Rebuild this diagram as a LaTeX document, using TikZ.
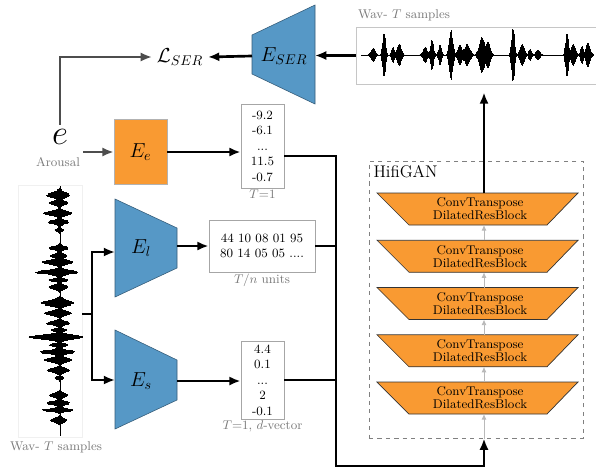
\documentclass[tikz,border=0pt]{standalone}
\usepackage{xcolor}
\usepackage{tikz}
\usetikzlibrary{arrows.meta}

\definecolor{serblue}{HTML}{5698C6}
\definecolor{encorange}{HTML}{F99A32}
\definecolor{lblgray}{HTML}{7A7A7A}
\definecolor{arrgray}{HTML}{4D4D4D}

\tikzset{
  conn/.style={line width=1.9pt, -{Latex[length=8pt,width=6.5pt]}},
  grayconn/.style={arrgray, line width=1.8pt, -{Latex[length=8pt,width=6.5pt]}},
  thinarr/.style={gray!55, line width=0.6pt, -{Latex[length=4pt,width=3.5pt]}},
  bus/.style={line width=1.9pt},
  vecbox/.style={draw=gray!70, line width=0.6pt, fill=white, align=center, font=\small,
    minimum width=1.075cm, inner sep=2pt},
  lbl/.style={text=lblgray, font=\small},
  trapblue/.style={fill=serblue, draw=serblue!60!black, line width=0.4pt},
  blockfill/.style={fill=encorange, draw=gray!40!black, line width=0.5pt},
  wavebar/.style={line width=0.5pt}
}

\begin{document}
\begin{tikzpicture}[x=0.025cm,y=-0.025cm]
\useasboundingbox (0,0) rectangle (596,468);

\node[draw=gray!45, line width=0.6pt, minimum width=6.025cm, minimum height=1.425cm] (wavT) at (476.5,55.5) {};
\node[lbl] (wavTlbl) at (404,15) {Wav- $T$ samples};
\draw[line width=0.4pt] (361,55) -- (594,55);
\foreach \pos/\wid/\hgt in {373/3/7, 384/2/22, 393/2/8, 399/3/11, 425/3/8, 432/2/15, 440/2/10,
  451/2.5/25, 460/3/10, 467/4/11, 482/4/18, 488/3/14, 513/2/27, 522/3/11, 530/2/6, 538/3/5,
  567/2/22, 573/3/11, 582/2/9, 588/3/12} {
  \foreach \s in {-2,-1.9,...,2} {
    \pgfmathsetmacro\amp{\hgt*exp(-\s*\s)*(0.5+0.5*abs(sin(\s*577+\pos*7)))}
    \draw[wavebar] (\pos+\s*\wid,55-\amp) -- (\pos+\s*\wid,55+\amp);
  }
}

\filldraw[trapblue] (252,35) -- (315,5) -- (315,104) -- (252,74) -- cycle;
\node[font=\Large] (eser) at (284,56) {$E_{SER}$};
\coordinate (eserR) at (315,55.5);
\coordinate (eserL) at (252,56);
\draw[conn] (wavT.west) -- (eserR);

\node[font=\Large] (lser) at (180,57) {$\mathcal{L}_{SER}$};
\draw[conn] (eserL) -- (lser.east);

\node[font=\Huge] (e) at (60,137) {$e$};
\node[lbl] (arousal) at (58,162) {Arousal};
\draw[grayconn] (e.north) |- (lser.west);

\node[fill=encorange, draw=gray!60, line width=0.4pt, minimum width=1.325cm, minimum height=1.625cm,
  font=\Large] (Ee) at (140.5,152) {$E_e$};
\coordinate (eout) at (83,152);
\draw[grayconn] (eout) -- (Ee.west);

\node[vecbox, minimum height=2.1cm] (vecE) at (262.5,146) {-9.2\\-6.1\\...\\11.5\\-0.7};
\node[lbl, anchor=north, inner sep=1pt] (vecElbl) at (vecE.south) {$T$=1};
\draw[conn] (Ee.east) -- (Ee.east -| vecE.west);

\node[draw=gray!12, minimum width=1.6cm, minimum height=6.3cm] (wavL) at (50,311) {};
\node[lbl] (wavLlbl) at (56,447) {Wav- $T$ samples};
\draw[line width=0.4pt] (60,186) -- (60,436);
\foreach \pos/\wid/\hgt in {195/4/12, 203/3/10, 213/3/15, 222/3/11, 230/2/5, 248/3/10, 256/3/9,
  262/3/16, 272/3/22, 280/2/10, 287/3/10, 303/4/17, 313/3/14, 323/3/12, 330/2/8, 337/3/28,
  345/2/10, 352/3/18, 360/3/15, 370/3/12, 378/2/5, 395/3/10, 403/3/12, 410/2/16, 420/3/9} {
  \foreach \s in {-2,-1.9,...,2} {
    \pgfmathsetmacro\amp{\hgt*exp(-\s*\s)*(0.5+0.5*abs(sin(\s*577+\pos*7)))}
    \draw[wavebar] (60-1.15*\amp,\pos+\s*\wid) -- (60+0.85*\amp,\pos+\s*\wid);
  }
}

\filldraw[trapblue] (115,199) -- (177,228) -- (177,268) -- (115,297) -- cycle;
\node[font=\Large] (El) at (141,248) {$E_l$};
\coordinate (El-in) at (115,252);
\coordinate (El-out) at (177,246);
\filldraw[trapblue] (115,330) -- (177,360) -- (177,400) -- (115,429) -- cycle;
\node[font=\Large] (Es) at (141,381) {$E_s$};
\coordinate (Es-in) at (115,380);
\coordinate (Es-out) at (177,381);

\coordinate (split) at (92,314);
\draw[bus] (wavL.east |- split) -- (split);
\draw[conn] (split) |- (El-in);
\draw[conn] (split) |- (Es-in);

\node[vecbox, minimum width=2.65cm, minimum height=1.3cm] (units) at (262,246) {44 10 08 01 95\\80 14 05 05 ....};
\node[lbl, anchor=north, inner sep=1pt] (unitslbl) at (units.south) {$T/n$ units};
\draw[conn] (El-out) -- (units.west);

\node[vecbox, minimum height=1.95cm] (vecS) at (262.5,380) {4.4\\0.1\\...\\2\\-0.1};
\node[lbl, anchor=north, inner sep=1pt] (vecSlbl) at (vecS.south) {$T$=1, $d$-vector};
\draw[conn] (Es-out) -- (Es-out -| vecS.west);

\node[draw=gray, dashed, line width=0.5pt, minimum width=5.35cm, minimum height=6.925cm] (hifi) at (476,299.5) {};
\node[anchor=north west, font=\large] (hifilbl) at (hifi.north west) {HifiGAN};
\coordinate (hifiin) at (484,438.5);

\foreach \k in {1,...,5} {
  \pgfmathsetmacro\yt{193+(\k-1)*47.25}
  \filldraw[blockfill] (377,\yt) -- (578,\yt) -- (547,\yt+32) -- (409,\yt+32) -- cycle;
  \node[font=\small, align=center, inner sep=0pt] (blk\k) at (480,\yt+16) {ConvTranspose\\[-1.8pt]DilatedResBlock};
  \coordinate (blk\k-t) at (484,\yt);
  \coordinate (blk\k-b) at (484,\yt+32);
}
\foreach \k [evaluate=\k as \j using int(\k+1)] in {1,...,4}
  \draw[thinarr] (blk\j-t) -- (blk\k-b);
\draw[thinarr] (hifiin) -- (blk5-b);

\coordinate (bus) at (336,466);
\draw[conn] ([yshift=-0.25cm]vecE.east) -| (bus) -| (hifiin);
\draw[bus] (units.east) -- (units.east -| bus);
\draw[bus] (vecS.east) -- (vecS.east -| bus);
\draw[conn, shorten >=0.2cm] (blk1-t) -- (blk1-t |- wavT.south);
\end{tikzpicture}
\end{document}
